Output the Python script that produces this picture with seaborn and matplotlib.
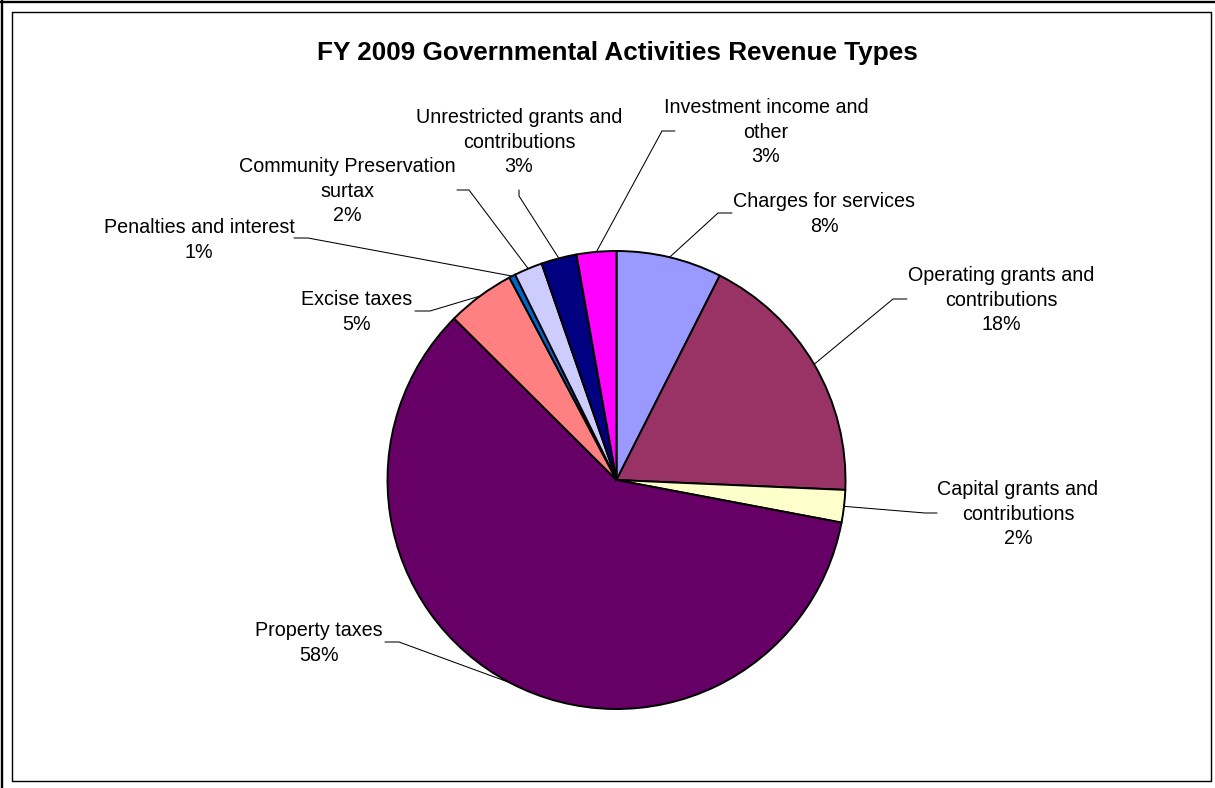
import matplotlib.pyplot as plt
import seaborn as sns
import numpy as np

# valores (fatias em sentido horário a partir do topo)
categorias = [
    'Charges for services',
    'Operating grants and\ncontributions',
    'Capital grants and\ncontributions',
    'Property taxes',
    'Excise taxes',
    'Penalties and interest',
    'Community Preservation\nsurtax',
    'Unrestricted grants and\ncontributions',
    'Investment income and\nother',
]
fatias = [7.45, 18.25, 2.29, 59.5, 4.8, 0.45, 2.0, 2.5, 2.8]
rotulos_pct = ['8%', '18%', '2%', '58%', '5%', '1%', '2%', '3%', '3%']
cores = ['#9999FF', '#993366', '#FFFFCC', '#660066', '#FF8080',
         '#0066CC', '#CCCCFF', '#000080', '#FF00FF']

# posições dos rótulos (pixels da imagem: centro do texto, cotovelo, fim da linha)
pos_texto = [(824, 214), (1001, 300), (1018, 514), (319, 643), (357, 312),
             (199, 240), (347, 191), (519, 142), (766, 132)]
pos_cotovelo = [(718, 213), (893, 299), (925, 513), (399, 642), (430, 311),
                (308, 238), (469, 190), (519, 196), (662, 131)]
pos_fim = [(732, 213), (907, 299), (937, 513), (385, 642), (415, 311),
           (294, 238), (457, 190), (519, 190), (675, 131)]

W, H = 1215, 788
def px(x, y):
    return x, H - y

sns.set_style('white')
plt.rcParams['font.family'] = ['Liberation Sans', 'DejaVu Sans']
plt.rcParams['text.color'] = 'black'

fig = plt.figure(figsize=(W / 100, H / 100), dpi=100)
ax = fig.add_axes([0, 0, 1, 1])

centro = px(616.5, 480)
raio = 229
wedges, _ = ax.pie(fatias, colors=cores, startangle=90, counterclock=False,
                   center=centro, radius=raio,
                   wedgeprops={'edgecolor': 'black', 'linewidth': 1.4})
ax.set_xlim(0, W)
ax.set_ylim(0, H)
ax.set_aspect('equal')
ax.axis('off')

# rótulos com linhas de chamada
for w, cat, pct, t, c, f in zip(wedges, categorias, rotulos_pct, pos_texto, pos_cotovelo, pos_fim):
    ang = np.deg2rad((w.theta1 + w.theta2) / 2)
    bx = centro[0] + raio * np.cos(ang)
    by = centro[1] + raio * np.sin(ang)
    cx, cy = px(*c)
    fx, fy = px(*f)
    ax.plot([bx, cx, fx], [by, cy, fy], color='black', lw=0.75, zorder=0)
    tx, ty = px(*t)
    ax.text(tx, ty, cat + '\n' + pct, ha='center', va='center', multialignment='center',
            fontsize=14.2, linespacing=1.36, color='black')

ax.text(*px(617, 53), 'FY 2009 Governmental Activities Revenue Types',
        ha='center', va='center', fontsize=18.8, fontweight='bold', color='black')

# molduras
ax.plot([1.5, 1.5], [0, H], color='black', lw=1.7, clip_on=False)
ax.plot([0, W], [H - 1.5, H - 1.5], color='black', lw=1.7, clip_on=False)
x0, y0 = px(12, 12)
x1, y1 = px(1211, 781)
ax.plot([x0, x1, x1, x0, x0], [y0, y0, y1, y1, y0], color='black', lw=1.0)

fig.savefig('out.png', dpi=100, facecolor='white')
